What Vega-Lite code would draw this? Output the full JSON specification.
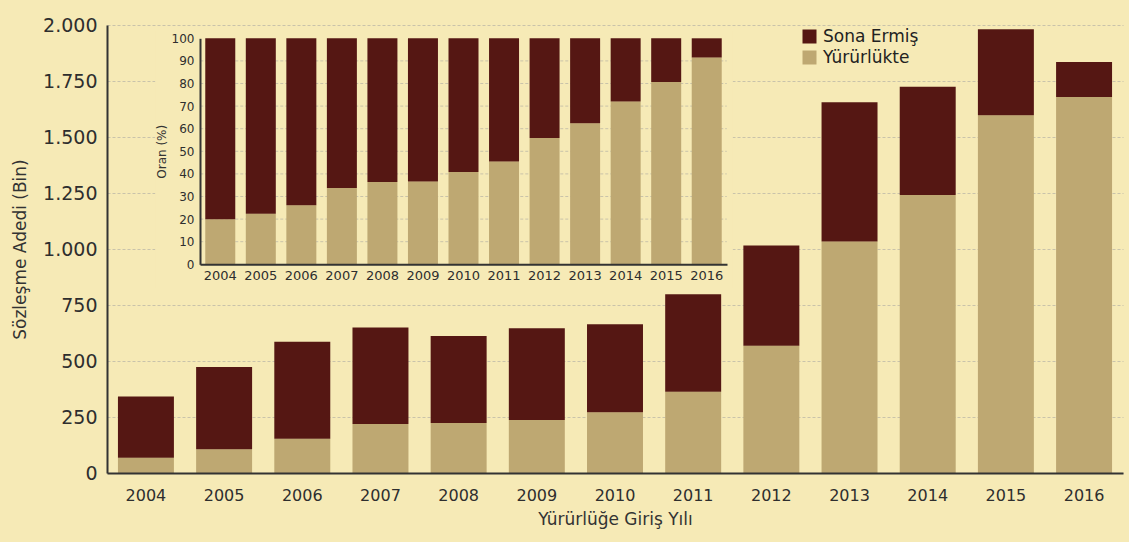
{
  "$schema": "https://vega.github.io/schema/vega-lite/v6.json",
  "width": 1016,
  "height": 448,
  "autosize": {"type": "none"},
  "padding": {"left": 107, "top": 25, "right": 6, "bottom": 69},
  "background": "#F6EAB6",
  "config": {
    "view": {"stroke": null},
    "font": "DejaVu Sans",
    "axis": {"labelColor": "#2e2e2e", "titleColor": "#333333", "titleFontWeight": "normal", "domainColor": "#333333", "domainWidth": 2, "ticks": false, "tickSize": 0}
  },
  "datasets": {
    "sozlesme": [
      {"yil": "2004", "durum": "Yürürlükte", "adet": 68},
      {"yil": "2004", "durum": "Sona Ermiş", "adet": 273},
      {"yil": "2005", "durum": "Yürürlükte", "adet": 106},
      {"yil": "2005", "durum": "Sona Ermiş", "adet": 367},
      {"yil": "2006", "durum": "Yürürlükte", "adet": 153},
      {"yil": "2006", "durum": "Sona Ermiş", "adet": 433},
      {"yil": "2007", "durum": "Yürürlükte", "adet": 219},
      {"yil": "2007", "durum": "Sona Ermiş", "adet": 430},
      {"yil": "2008", "durum": "Yürürlükte", "adet": 223},
      {"yil": "2008", "durum": "Sona Ermiş", "adet": 389},
      {"yil": "2009", "durum": "Yürürlükte", "adet": 237},
      {"yil": "2009", "durum": "Sona Ermiş", "adet": 409},
      {"yil": "2010", "durum": "Yürürlükte", "adet": 271},
      {"yil": "2010", "durum": "Sona Ermiş", "adet": 393},
      {"yil": "2011", "durum": "Yürürlükte", "adet": 363},
      {"yil": "2011", "durum": "Sona Ermiş", "adet": 435},
      {"yil": "2012", "durum": "Yürürlükte", "adet": 568},
      {"yil": "2012", "durum": "Sona Ermiş", "adet": 448},
      {"yil": "2013", "durum": "Yürürlükte", "adet": 1033},
      {"yil": "2013", "durum": "Sona Ermiş", "adet": 622},
      {"yil": "2014", "durum": "Yürürlükte", "adet": 1241},
      {"yil": "2014", "durum": "Sona Ermiş", "adet": 483},
      {"yil": "2015", "durum": "Yürürlükte", "adet": 1597},
      {"yil": "2015", "durum": "Sona Ermiş", "adet": 384},
      {"yil": "2016", "durum": "Yürürlükte", "adet": 1679},
      {"yil": "2016", "durum": "Sona Ermiş", "adet": 156}
    ],
    "izgara": [
      {"oran": 0.1}, {"oran": 0.2}, {"oran": 0.3}, {"oran": 0.4}, {"oran": 0.5},
      {"oran": 0.6}, {"oran": 0.7}, {"oran": 0.8}, {"oran": 0.9}
    ]
  },
  "layer": [
    {
      "data": {"name": "sozlesme"},
      "mark": {"type": "bar"},
      "encoding": {
        "x": {
          "field": "yil", "type": "ordinal",
          "scale": {"paddingInner": 0.284, "paddingOuter": 0.14},
          "axis": {"title": "Yürürlüğe Giriş Yılı", "orient": "bottom", "labelAngle": 0, "labelFontSize": 16, "labelPadding": 14, "titleFontSize": 17, "titlePadding": 8, "zindex": 1, "grid": false}
        },
        "y": {
          "field": "adet", "type": "quantitative", "stack": "zero",
          "scale": {"domain": [0, 2000], "nice": false},
          "axis": {
            "orient": "left",
            "title": "Sözleşme Adedi (Bin)",
            "values": [0, 250, 500, 750, 1000, 1250, 1500, 1750, 2000],
            "labelExpr": "replace(format(datum.value, ','), ',', '.')",
            "labelFontSize": 19, "labelPadding": 10,
            "titleFontSize": 17, "titlePadding": 13,
            "grid": true, "gridDash": [3, 2], "gridColor": "#c9c3aa", "gridWidth": 1,
            "zindex": 0
          }
        },
        "color": {
          "field": "durum", "type": "nominal",
          "scale": {"domain": ["Sona Ermiş", "Yürürlükte"], "range": ["#551713", "#BEA872"]},
          "legend": {
            "title": null, "orient": "none", "legendX": 694, "legendY": 3,
            "padding": 0, "symbolType": "square", "symbolSize": 196, "symbolStrokeWidth": 0,
            "labelFontSize": 17, "labelColor": "#222222", "labelOffset": 5, "rowPadding": 3
          }
        },
        "order": {"field": "durum", "sort": "descending"}
      }
    },
    {
      "layer": [
        {
          "data": {"values": [{}]},
          "mark": {"type": "rect", "color": "#F6EAB6", "xOffset": -50, "x2Offset": 26, "yOffset": -8, "y2Offset": 24},
          "encoding": {
            "x": {"datum": "2004", "type": "ordinal", "bandPosition": 0},
            "x2": {"datum": "2016"},
            "y": {"datum": 1, "type": "quantitative"},
            "y2": {"datum": 0}
          }
        },
        {
          "data": {"name": "izgara"},
          "mark": {"type": "rule", "color": "#c9c3aa", "strokeDash": [3, 2], "strokeWidth": 1, "xOffset": -5, "x2Offset": 20},
          "encoding": {
            "x": {"datum": "2004", "type": "ordinal", "bandPosition": 0},
            "x2": {"datum": "2016"},
            "y": {"field": "oran", "type": "quantitative"}
          }
        },
        {
          "data": {"name": "sozlesme"},
          "mark": {"type": "bar"},
          "encoding": {
            "x": {"field": "yil", "type": "ordinal"},
            "y": {"field": "adet", "type": "quantitative", "stack": "normalize"},
            "color": {"field": "durum", "type": "nominal"},
            "order": {"field": "durum", "sort": "descending"}
          }
        }
      ],
      "encoding": {
        "x": {
          "type": "ordinal",
          "scale": {"range": [93, 620], "paddingInner": 0.26, "paddingOuter": 0.13},
          "axis": {"title": null, "orient": "bottom", "offset": -208.7, "labelAngle": 0, "labelFontSize": 13, "labelPadding": 5, "zindex": 1, "grid": false}
        },
        "y": {
          "type": "quantitative",
          "scale": {"range": [239.3, 13.3], "domain": [0, 1], "nice": false},
          "axis": {
            "title": "Oran (%)", "orient": "left", "offset": -93,
            "values": [0, 0.1, 0.2, 0.3, 0.4, 0.5, 0.6, 0.7, 0.8, 0.9, 1],
            "labelExpr": "format(datum.value * 100, '.0f')",
            "labelFontSize": 12, "labelPadding": 6, "titleFontSize": 12, "titlePadding": 3,
            "grid": false, "zindex": 1
          }
        }
      }
    }
  ],
  "resolve": {
    "scale": {"x": "independent", "y": "independent"},
    "axis": {"x": "independent", "y": "independent"}
  }
}
